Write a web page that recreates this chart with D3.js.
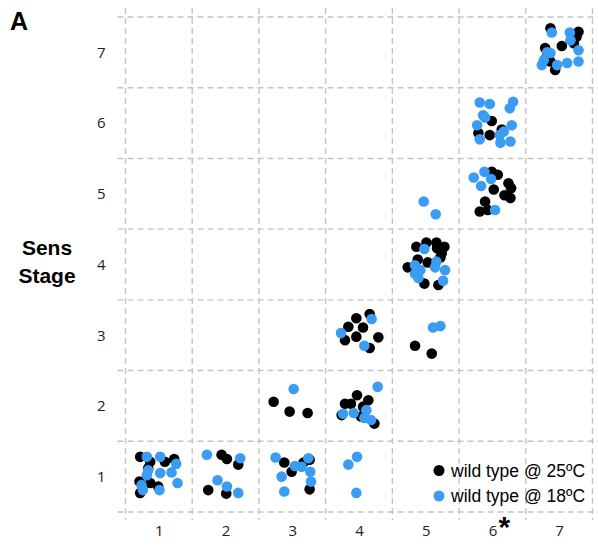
<!DOCTYPE html>
<html>
<head>
<meta charset="utf-8">
<script src="https://cdn.jsdelivr.net/npm/d3@7"></script>
<style>
  body { margin: 0; background: #fff; }
  svg { display: block; }
</style>
</head>
<body>
<svg id="chart" width="598" height="550"></svg>
<script>
// sens stage per embryo, jittered inside each (stage, stage) cell
var stages = [1, 2, 3, 4, 5, 6, 7];
var xLabels = ['1', '2', '3', '4', '5', '6', '7'];
var yLabels = ['1', '2', '3', '4', '5', '6', '7'];

var warmX = [0.72, 0.87, 1.09, 1.23, 0.71, 0.87, 0.99, 0.72, 0.84,
  1.94, 2.02, 2.19, 1.74, 2.01,
  2.88, 2.99, 3.17, 3.26, 3.26,
  2.72, 2.96, 3.23,
  3.97, 4.14, 3.79, 3.88, 4.06, 4.23, 4.03, 3.74,
  4.16, 3.96, 3.84, 4.06, 3.79, 3.96, 4.29, 4.16,
  4.84, 5.09,
  4.86, 5.01, 5.16, 5.28, 5.17, 5.24, 4.88, 5.03, 4.73, 4.98, 5.19, 5.22,
  5.99, 5.79, 5.96, 6.14,
  5.99, 6.08, 6.24, 6.28, 6.02, 6.18, 6.27, 5.89, 5.81, 5.93,
  6.87, 7.29, 7.26, 6.79, 7.04, 7.22, 6.87, 6.94, 6.82];
var warmY = [1.28, 1.21, 1.21, 1.25, 0.93, 0.91, 0.86, 0.77, 1.12,
  1.31, 1.25, 1.17, 0.81, 0.76,
  1.20, 1.07, 1.20, 1.24, 0.82,
  2.06, 1.92, 1.90,
  2.15, 2.08, 2.03, 2.03, 1.99, 1.75, 1.85, 1.87,
  3.30, 3.24, 3.12, 3.11, 2.93, 2.98, 2.97, 2.82,
  2.85, 2.74,
  4.25, 4.31, 4.31, 4.25, 4.23, 4.16, 4.07, 4.03, 3.96, 3.73, 3.71, 4.10,
  6.03, 5.86, 5.83, 5.91,
  5.31, 5.27, 5.15, 5.08, 5.06, 4.98, 4.94, 4.89, 4.75, 4.77,
  7.34, 7.29, 7.22, 7.06, 7.09, 7.13, 6.87, 6.75, 6.96];

var coolX = [0.82, 1.02, 1.26, 0.84, 1.02, 1.19, 0.82, 0.74, 1.28, 1.01, 0.76,
  1.72, 2.22, 1.88, 2.02, 2.19,
  2.75, 3.04, 3.14, 3.24, 2.84, 3.27, 3.28, 2.88,
  3.97, 3.84, 3.96,
  3.02,
  4.28, 3.76, 3.92, 4.11, 4.08, 4.18,
  4.19, 3.73, 4.08,
  5.11, 5.22,
  4.98, 4.84, 4.92, 4.84, 4.89, 5.16, 5.14, 5.29, 5.26,
  4.97, 5.15,
  5.81, 5.96, 6.31, 6.26, 5.86, 5.89, 5.77, 6.29, 6.17, 6.11, 6.12, 6.27, 5.81,
  5.72, 5.88, 5.98, 5.83, 6.04,
  6.89, 7.16, 7.17, 6.82, 6.87, 6.77, 6.74, 6.97, 7.12, 7.29, 7.29];
var coolY = [1.28, 1.28, 1.18, 1.09, 1.05, 1.06, 1.02, 0.88, 0.91, 0.81, 0.81,
  1.31, 1.26, 0.95, 0.86, 0.77,
  1.27, 1.15, 1.14, 1.26, 1.00, 1.07, 0.93, 0.79,
  1.28, 1.17, 0.77,
  2.24,
  2.27, 1.89, 1.90, 1.94, 1.83, 1.80,
  3.23, 3.03, 2.85,
  3.11, 3.13,
  4.22, 3.99, 3.92, 3.87, 3.81, 4.04, 3.96, 3.92, 3.77,
  4.89, 4.71,
  6.29, 6.27, 6.30, 6.21, 6.11, 6.08, 5.97, 5.97, 5.88, 5.83, 5.72, 5.74, 5.77,
  5.23, 5.31, 5.21, 5.11, 4.77,
  7.28, 7.28, 7.17, 7.00, 6.99, 6.89, 6.82, 6.82, 6.85, 7.03, 6.87];

var seriesNames = ['wild type @ 25ºC', 'wild type @ 18ºC'];
var seriesColors = ['#000000', '#3a9cf2'];

var svg = d3.select('#chart');
var plotLeft = 125.5, plotRight = 592.5, plotTop = 17, plotBottom = 512;

var x = d3.scaleLinear().domain([0.5, 7.5]).range([plotLeft, plotRight]);
var y = d3.scaleLinear().domain([0.5, 7.5]).range([plotBottom, plotTop]);

// dashed grid on the cell borders
var edges = d3.range(0.5, 8, 1);
var grid = svg.append('g')
    .attr('stroke', '#c4c4c4')
    .attr('stroke-width', 1.4)
    .attr('stroke-dasharray', '6,4');
grid.selectAll('line.v').data(edges).enter().append('line')
    .attr('class', 'v')
    .attr('x1', function(d) { return x(d); })
    .attr('x2', function(d) { return x(d); })
    .attr('y1', plotTop - 9)
    .attr('y2', plotBottom + 8);
grid.selectAll('line.h').data(edges).enter().append('line')
    .attr('class', 'h')
    .attr('x1', plotLeft - 8)
    .attr('x2', 598)
    .attr('y1', function(d) { return y(d); })
    .attr('y2', function(d) { return y(d); });

var xAxis = d3.axisBottom(x).tickValues(stages)
    .tickFormat(function(d, i) { return xLabels[i]; }).tickSize(0).tickPadding(13);
var yAxis = d3.axisLeft(y).tickValues(stages)
    .tickFormat(function(d, i) { return yLabels[i]; }).tickSize(0).tickPadding(20);

svg.append('g').attr('transform', 'translate(0,' + plotBottom + ')').call(xAxis)
    .call(function(g) { g.select('.domain').remove(); });
svg.append('g').attr('transform', 'translate(' + plotLeft + ',0)').call(yAxis)
    .call(function(g) { g.select('.domain').remove(); });
svg.selectAll('.tick text')
    .attr('font-family', 'Open Sans, sans-serif')
    .attr('font-size', 15)
    .attr('fill', '#222');

// asterisk next to stage 6
svg.append('text')
    .attr('x', x(6) + 6).attr('y', plotBottom + 25)
    .attr('font-family', 'Liberation Sans, Arial, sans-serif')
    .attr('font-weight', 'bold').attr('font-size', 30)
    .text('*');

var draw_points = function(xs, ys, color) {
    svg.append('g').selectAll('circle').data(d3.zip(xs, ys)).enter().append('circle')
        .attr('cx', function(d) { return x(d[0]); })
        .attr('cy', function(d) { return y(d[1]); })
        .attr('r', 5.3)
        .attr('fill', color);
};
draw_points(warmX, warmY, seriesColors[0]);
draw_points(coolX, coolY, seriesColors[1]);

// legend
var legend = svg.append('g').attr('transform', 'translate(439,470.5)');
seriesNames.forEach(function(name, i) {
    legend.append('circle').attr('cx', 0).attr('cy', i * 25.5).attr('r', 5.5).attr('fill', seriesColors[i]);
    legend.append('text').attr('x', 12).attr('y', i * 25.5 + 6)
        .attr('font-family', 'Liberation Sans, Arial, sans-serif')
        .attr('font-size', 17.5)
        .text(name);
});

// titles
svg.append('text').attr('x', 10).attr('y', 30)
    .attr('font-family', 'Liberation Sans, Arial, sans-serif')
    .attr('font-weight', 'bold').attr('font-size', 25)
    .text('A');
var ylab = svg.append('text')
    .attr('font-family', 'Liberation Sans, Arial, sans-serif')
    .attr('font-weight', 'bold').attr('font-size', 21)
    .attr('text-anchor', 'middle');
ylab.append('tspan').attr('x', 47).attr('y', 255).text('Sens');
ylab.append('tspan').attr('x', 47).attr('y', 283).text('Stage');
</script>
</body>
</html>
